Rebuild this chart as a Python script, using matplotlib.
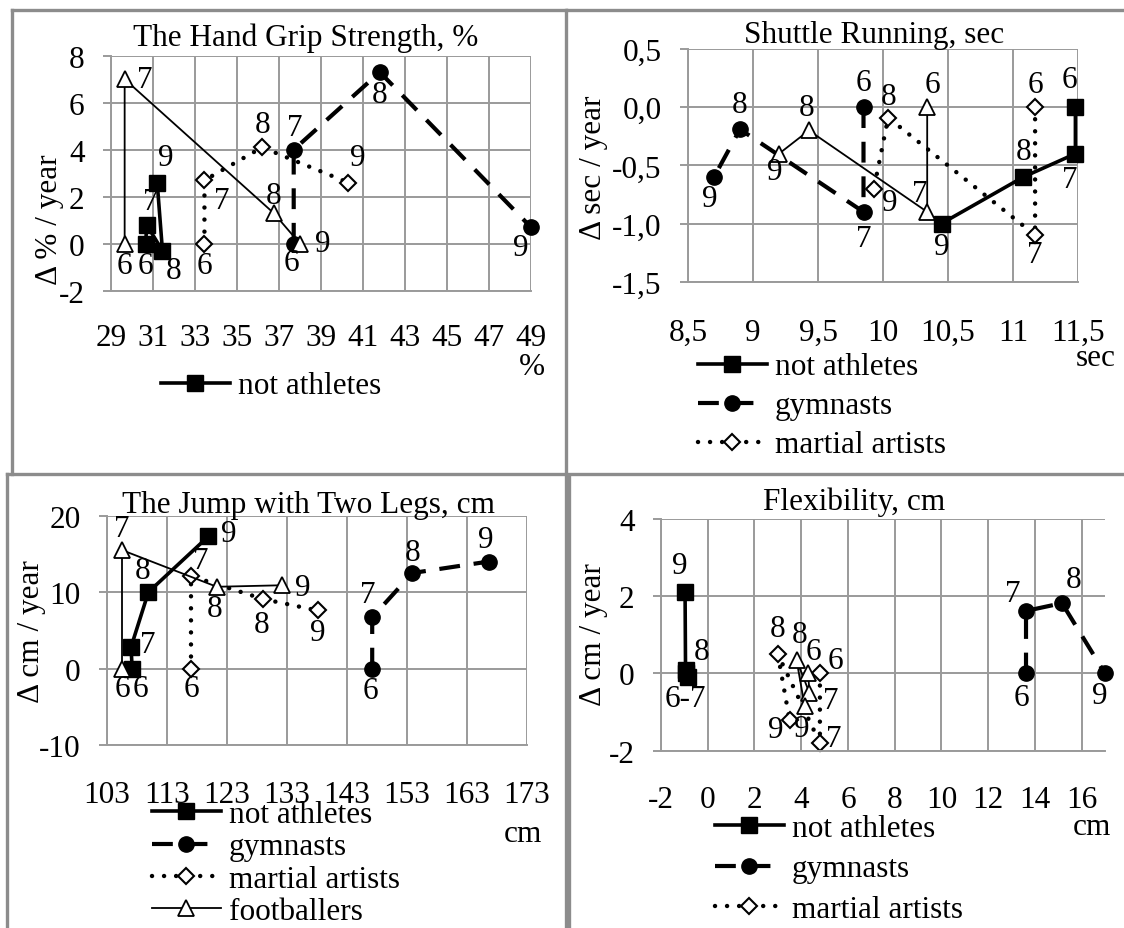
import matplotlib
matplotlib.use("Agg")
import matplotlib.pyplot as plt
from matplotlib.lines import Line2D

plt.rcParams['font.family'] = ['Liberation Serif', 'DejaVu Serif']
plt.rcParams['font.size'] = 22.5
plt.rcParams['axes.unicode_minus'] = False

W, H = 1124, 929
ages = ['6', '7', '8', '9']

# --- The Hand Grip Strength, % ---
grip_not_x = [30.65, 30.7, 31.45, 31.2]
grip_not_y = [0, 0.8, -0.3, 2.6]
grip_gym_x = [37.7, 37.7, 41.8, 49.0]
grip_gym_y = [0, 4.0, 7.3, 0.7]
grip_mart_x = [33.45, 33.45, 36.2, 40.3]
grip_mart_y = [0, 2.7, 4.1, 2.6]
grip_foot_x = [29.65, 29.65, 36.75, 38.0]
grip_foot_y = [0, 7.0, 1.3, 0]

# --- Shuttle Running, sec ---
run_not_x = [11.48, 11.48, 11.08, 10.45]
run_not_y = [0, -0.4, -0.6, -1.0]
run_gym_x = [9.85, 9.85, 8.9, 8.7]
run_gym_y = [0, -0.9, -0.19, -0.6]
run_mart_x = [11.17, 11.17, 10.04, 9.93]
run_mart_y = [0, -1.1, -0.09, -0.7]
run_foot_x = [10.34, 10.34, 9.43, 9.2]
run_foot_y = [0, -0.9, -0.2, -0.4]

# --- The Jump with Two Legs, cm ---
jump_not_x = [107.2, 107.0, 109.9, 119.9]
jump_not_y = [0, 2.8, 10.0, 17.3]
jump_gym_x = [147.2, 147.2, 153.9, 166.6]
jump_gym_y = [0, 6.7, 12.5, 14.0]
jump_mart_x = [117.0, 117.0, 129.0, 138.1]
jump_mart_y = [0, 12.1, 9.1, 7.6]
jump_foot_x = [105.5, 105.5, 121.3, 132.2]
jump_foot_y = [0, 15.5, 10.7, 10.9]

# --- Flexibility, cm ---
flex_not_x = [-0.95, -0.85, -0.95, -0.97]
flex_not_y = [0, -0.1, 0.1, 2.1]
flex_not_labels = ['6-7', '', '8', '9']
flex_gym_x = [13.62, 13.62, 15.16, 17.0]
flex_gym_y = [0, 1.62, 1.82, 0]
flex_mart_x = [4.8, 4.8, 3.0, 3.5]
flex_mart_y = [0, -1.8, 0.5, -1.2]
flex_foot_x = [4.3, 4.35, 3.8, 4.15]
flex_foot_y = [0, -0.5, 0.35, -0.85]

grip_xticks = list(range(29, 50, 2))
grip_yticks = [-2, 0, 2, 4, 6, 8]
run_xticks = [8.5, 9, 9.5, 10, 10.5, 11, 11.5]
run_xlabels = ['8,5', '9', '9,5', '10', '10,5', '11', '11,5']
run_yticks = [-1.5, -1.0, -0.5, 0.0, 0.5]
run_ylabels = ['-1,5', '-1,0', '-0,5', '0,0', '0,5']
jump_xticks = list(range(103, 174, 10))
jump_yticks = [-10, 0, 10, 20]
flex_xticks = list(range(-2, 17, 2))
flex_yticks = [-2, 0, 2, 4]

GRID = '#9a9a9a'
BORDER = '#8c8c8c'

styles = {
    'not': dict(color='black', lw=2.6, marker='s', ms=11, mfc='black', mec='black'),
    'gym': dict(color='black', lw=3.0, dashes=(5, 3.3), marker='o', ms=11,
                mfc='black', mec='black', dash_capstyle='butt'),
    'mart': dict(color='black', lw=3.2, linestyle=(0, (0.01, 2.7)), dash_capstyle='round',
                 marker='D', ms=8.5, mfc='white', mec='black', mew=1.5),
    'foot': dict(color='black', lw=1.3, marker='^', ms=11, mfc='white', mec='black', mew=1.3),
}
names = {'not': 'not athletes', 'gym': 'gymnasts', 'mart': 'martial artists', 'foot': 'footballers'}

fig = plt.figure(figsize=(W / 100, H / 100), dpi=100)


def px_axes(x0, y0, x1, y1):
    return fig.add_axes([x0 / W, 1 - y1 / H, (x1 - x0) / W, (y1 - y0) / H])


def style_axes(ax, xlim, ylim, xticks, yticks, xlabels=None, ylabels=None, xpad=22):
    ax.set_xlim(*xlim)
    ax.set_ylim(*ylim)
    ax.set_xticks(xticks)
    ax.set_yticks(yticks)
    if xlabels is not None:
        ax.set_xticklabels(xlabels)
    if ylabels is not None:
        ax.set_yticklabels(ylabels)
    ax.grid(True, color=GRID, lw=1.4)
    ax.set_axisbelow(True)
    for s in ['top', 'right']:
        ax.spines[s].set_visible(False)
    for s in ['left', 'bottom']:
        ax.spines[s].set_color(GRID)
        ax.spines[s].set_linewidth(1.4)
    ax.tick_params(axis='x', length=0, pad=xpad)
    ax.tick_params(axis='y', length=6, width=1.4, color=GRID, pad=13)


def draw(ax, key, xs, ys, offs, labels=ages):
    ln, = ax.plot(xs, ys, clip_on=False, label=names[key], **styles[key])
    for x, y, t, (dx, dy) in zip(xs, ys, labels, offs):
        if t:
            ax.annotate(t, (x, y), xytext=(dx, dy), textcoords='offset pixels',
                        ha='center', va='center')
    return ln


def add_legend(ax, handles, x, ycenter, spacing):
    ax.legend(handles=handles, loc='center left', bbox_to_anchor=(x / W, 1 - ycenter / H),
              bbox_transform=fig.transFigure, frameon=False, borderpad=0, borderaxespad=0,
              handlelength=2.2, handletextpad=0.25, labelspacing=spacing, numpoints=1)


def ftext(x, y, s, **kw):
    fig.text(x / W, 1 - y / H, s, ha='center', va='center', **kw)


# Panel 1
ax1 = px_axes(111, 56.7, 531, 291.7)
style_axes(ax1, (29, 49), (-2, 8), grip_xticks, grip_yticks, xpad=23)
h_not = draw(ax1, 'not', grip_not_x, grip_not_y, [(0, -22), (4, 23), (11, -20), (9, 25)])
draw(ax1, 'gym', grip_gym_x, grip_gym_y, [(-2, -19), (1, 22), (0, -22), (-10, -20)])
draw(ax1, 'mart', grip_mart_x, grip_mart_y, [(0, -22), (17, -20), (0, 23), (9, 25)])
draw(ax1, 'foot', grip_foot_x, grip_foot_y, [(0, -22), (20, 0), (0, 18), (23, 0)])
add_legend(ax1, [h_not], 161, 387, 0)
ftext(306, 38, 'The Hand Grip Strength, %')
ftext(50, 220, 'Δ % / year', rotation=90)
ftext(532, 368, '%')

# Panel 2
ax2 = px_axes(688, 50, 1078, 282.7)
style_axes(ax2, (8.5, 11.5), (-1.5, 0.5), run_xticks, run_yticks, run_xlabels, run_ylabels, xpad=26)
h2n = draw(ax2, 'not', run_not_x, run_not_y, [(-6, 28), (-6, -26), (0, 25), (0, -23)])
h2g = draw(ax2, 'gym', run_gym_x, run_gym_y, [(0, 25), (0, -27), (0, 25), (-4, -22)])
h2m = draw(ax2, 'mart', run_mart_x, run_mart_y, [(0, 23), (0, -19), (0, 21), (16, -14)])
draw(ax2, 'foot', run_foot_x, run_foot_y, [(5, 23), (-7, 18), (-2, 23), (-4, -18)])
add_legend(ax2, [h2n, h2g, h2m], 698, 407, 0.32)
ftext(874, 35, 'Shuttle Running, sec')
ftext(593, 168, 'Δ sec / year', rotation=90)
ftext(1096, 359, 'sec')

# Panel 3
ax3 = px_axes(107, 516.7, 527, 746)
style_axes(ax3, (103, 173), (-10, 20), jump_xticks, jump_yticks, xpad=25)
h3n = draw(ax3, 'not', jump_not_x, jump_not_y, [(8, -20), (17, 3), (-6, 22), (20, 3)])
h3g = draw(ax3, 'gym', jump_gym_x, jump_gym_y, [(-2, -22), (-4, 23), (0, 21), (-3, 22)])
h3m = draw(ax3, 'mart', jump_mart_x, jump_mart_y, [(0, -20), (10, 16), (-1, -25), (0, -22)])
h3f = draw(ax3, 'foot', jump_foot_x, jump_foot_y, [(0, -20), (0, 22), (-2, -22), (21, -2)])
add_legend(ax3, [h3n, h3g, h3m, h3f], 152, 864, 0.1)
ftext(309, 505, 'The Jump with Two Legs, cm')
ftext(32, 632, 'Δ cm / year', rotation=90)
ftext(523, 835, 'cm')

# Panel 4
ax4 = px_axes(661, 520, 1105, 751.7)
style_axes(ax4, (-2, 17), (-2, 4), flex_xticks, flex_yticks, xpad=25)
h4n = draw(ax4, 'not', flex_not_x, flex_not_y, [(0, -25), (0, 0), (16, 18), (-5, 27)],
           labels=flex_not_labels)
h4g = draw(ax4, 'gym', flex_gym_x, flex_gym_y, [(-5, -24), (-13, 17), (12, 24), (-5, -22)])
h4m = draw(ax4, 'mart', flex_mart_x, flex_mart_y, [(16, 13), (14, 4), (0, 26), (-14, -10)])
draw(ax4, 'foot', flex_foot_x, flex_foot_y, [(5, 22), (21, -8), (3, 25), (-3, -22)])
add_legend(ax4, [h4n, h4g, h4m], 715, 870, 0.36)
ftext(854, 502, 'Flexibility, cm')
ftext(594, 635, 'Δ cm / year', rotation=90)
ftext(1092, 828, 'cm')

# panel borders
for (x0, y0, x1, y1) in [(12, 11, 12, 475), (12, 11, 566, 11), (567, 11, 1124, 11),
                         (566, 11, 566, 929), (7, 475, 1124, 475), (7, 475, 7, 929),
                         (569, 477, 569, 929)]:
    fig.add_artist(Line2D([x0 / W, x1 / W], [1 - y0 / H, 1 - y1 / H], color=BORDER, lw=2.4))

fig.savefig('out.png', dpi=100)
